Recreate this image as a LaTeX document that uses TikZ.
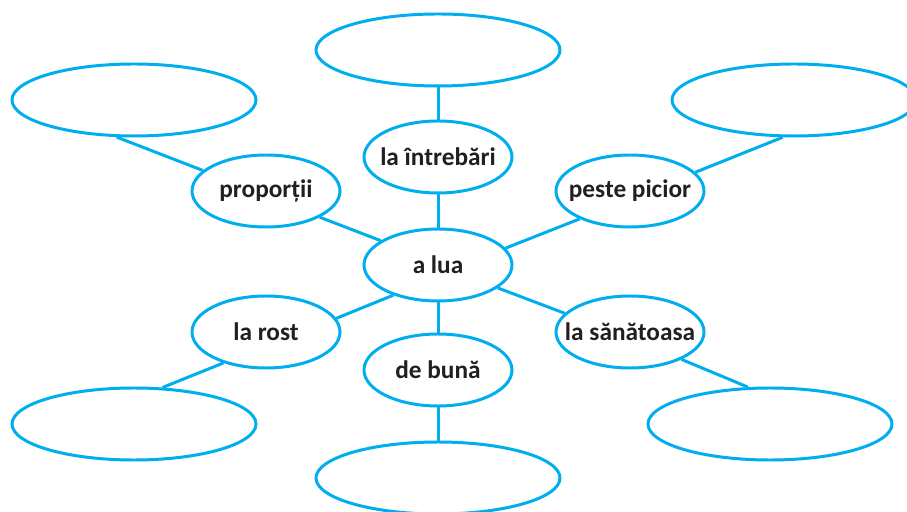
\documentclass[tikz,border=0pt]{standalone}
\usepackage{fontspec}
\setmainfont{Carlito}
\usetikzlibrary{shapes.geometric}
\definecolor{cyanline}{RGB}{0,174,239}
\definecolor{inkblack}{RGB}{35,31,32}

\begin{document}
\begin{tikzpicture}[
  word/.style={ellipse,draw=cyanline,line width=1.7pt,minimum width=2.96cm,minimum height=1.44cm,inner sep=0pt,text=inkblack,font=\bfseries\fontsize{14.4}{17}\selectfont},
  blank/.style={ellipse,draw=cyanline,line width=1.7pt,minimum width=4.88cm,minimum height=1.44cm,inner sep=0pt},
  link/.style={draw=cyanline,line width=1.7pt}]
        \useasboundingbox (0,0) rectangle (18.14,10.22);
        \draw (8.76,4.92) node[word] (C) {\makebox[0pt]{a lua}};
        \draw (8.76,7.08) node[word] (N) {\makebox[0pt]{la întrebări}};
        \draw (5.32,6.40) node[word] (NW) {\makebox[0pt]{proporții}};
        \draw (12.60,6.40) node[word] (NE) {\makebox[0pt]{peste picior}};
        \draw (5.32,3.58) node[word] (SW) {\makebox[0pt]{la rost}};
        \draw (8.76,2.82) node[word] (S) {\makebox[0pt]{de bună}};
        \draw (12.60,3.58) node[word] (SE) {\makebox[0pt]{la sănătoasa}};
        \draw (8.76,9.22) node[blank] (N2) {};
        \draw (2.68,8.22) node[blank] (NW2) {};
        \draw (15.88,8.22) node[blank] (NE2) {};
        \draw (2.68,1.74) node[blank] (SW2) {};
        \draw (8.76,0.66) node[blank] (S2) {};
        \draw (15.40,1.74) node[blank] (SE2) {};
        \draw[link] (C) -- (N);
        \draw[link] (C.157) -- (NW.334);
        \draw[link] (C.14) -- (NE.209);
        \draw[link] (C.214) -- (SW.11);
        \draw[link] (C) -- (S);
        \draw[link] (C.339) -- (SE.164);
        \draw[link] (N) -- (N2);
        \draw[link] (NW.162) -- (NW2.245);
        \draw[link] (NE.16) -- (NE2.253);
        \draw[link] (SW.216) -- (SW2.52);
        \draw[link] (S) -- (S2);
        \draw[link] (SE.332) -- (SE2.121);
\end{tikzpicture}
\end{document}
